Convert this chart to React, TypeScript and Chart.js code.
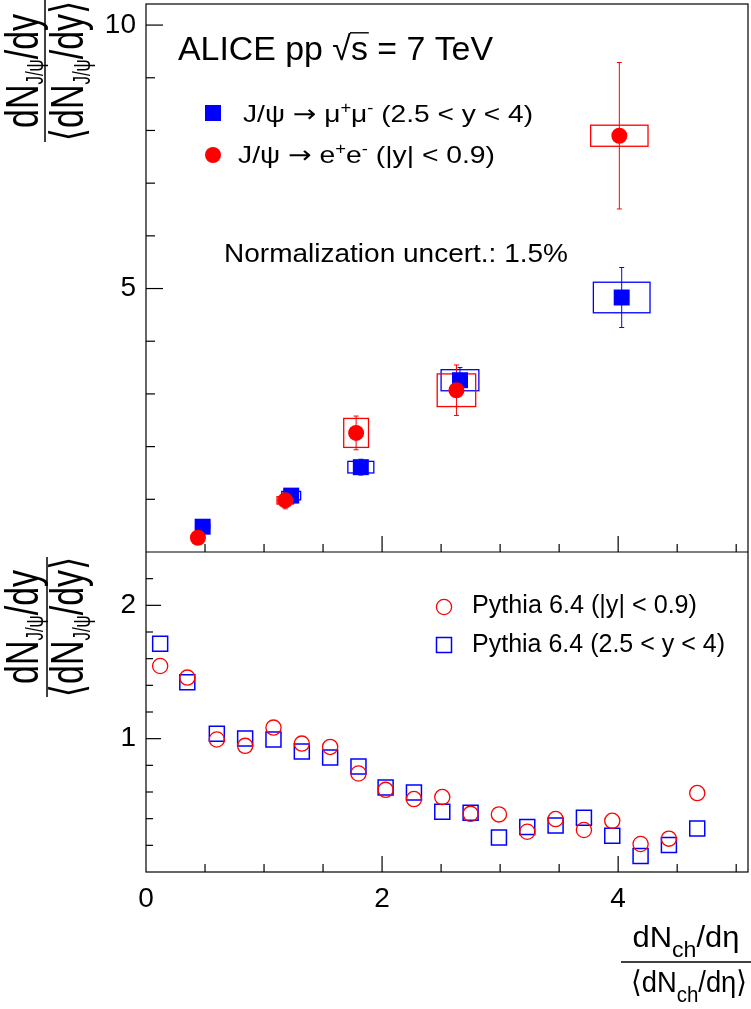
import React, { useEffect, useRef } from 'react';
import { Chart, registerables } from 'chart.js';

Chart.register(...registerables);

const FONT = '"Liberation Sans", Arial, Helvetica, sans-serif';
const SYM = '"DejaVu Sans", sans-serif';
const BLUE = '#0000ff';
const RED = '#ff0000';

// ---- Top panel: ALICE data ----
const muonX = [0.48, 1.23, 1.82, 2.66, 4.03];
const muonY = [0.48, 1.07, 1.61, 3.26, 4.83];
const muonStat = [0.04, 0.06, 0.15, 0.24, 0.57];
const muonSysX = [0.06, 0.08, 0.11, 0.16, 0.24];
const muonSysY = [0.04, 0.08, 0.11, 0.2, 0.29];

const eeX = [0.44, 1.18, 1.78, 2.63, 4.01];
const eeY = [0.27, 0.98, 2.26, 3.07, 7.9];
const eeStat = [0.05, 0.16, 0.32, 0.48, 1.39];
const eeSysX = [0.05, 0.07, 0.105, 0.163, 0.243];
const eeSysY = [0.04, 0.07, 0.275, 0.31, 0.2];

// ---- Bottom panel: Pythia 6.4 ----
const pythiaX = [0.12, 0.35, 0.6, 0.84, 1.08, 1.32, 1.56, 1.8, 2.03, 2.27, 2.51, 2.75, 2.99, 3.23, 3.47, 3.71, 3.95, 4.19, 4.43, 4.67];
const pythiaMidY = [1.545, 1.458, 0.994, 0.946, 1.083, 0.963, 0.938, 0.739, 0.616, 0.547, 0.562, 0.436, 0.432, 0.302, 0.397, 0.315, 0.384, 0.21, 0.25, 0.592];
const pythiaFwdY = [1.712, 1.423, 1.036, 1.001, 0.994, 0.903, 0.858, 0.791, 0.633, 0.597, 0.451, 0.444, 0.259, 0.337, 0.349, 0.406, 0.272, 0.12, 0.202, 0.326];

// ---- Axes ----
const xRange = [0, 5.1];
const yTopRange = [0, 10.4];
const yBotRange = [0, 2.4];
const xLabelTicks = [0, 2, 4];
const xAllTicks = [0.5, 1, 1.5, 2, 2.5, 3, 3.5, 4, 4.5, 5];
const yTopLabelTicks = [5, 10];
const yTopAllTicks = [1, 2, 3, 4, 5, 6, 7, 8, 9, 10];
const yBotLabelTicks = [1, 2];
const yBotAllTicks = [0.2, 0.4, 0.6, 0.8, 1, 1.2, 1.4, 1.6, 1.8, 2, 2.2];

type Seg = { t: string; k?: 'sub' | 'sup'; over?: boolean; fam?: string; size?: number };
type RichOpt = { f: number; subScale?: number; subDrop?: number; supRise?: number; target?: number; sx?: number; align?: 'left' | 'center' };

function segFont(s: Seg, o: RichOpt) {
  const base = s.size ?? o.f;
  const size = s.k ? o.f * (o.subScale ?? 0.7) : base;
  return `${size}px ${s.fam ?? FONT}`;
}
function richWidth(ctx: CanvasRenderingContext2D, segs: Seg[], o: RichOpt) {
  let w = 0;
  for (const s of segs) {
    ctx.font = segFont(s, o);
    w += ctx.measureText(s.t).width;
  }
  return w;
}
function drawRich(ctx: CanvasRenderingContext2D, segs: Seg[], x: number, y: number, o: RichOpt) {
  const nat = richWidth(ctx, segs, o);
  const sx = o.sx ?? (o.target ? o.target / nat : 1);
  const w = nat * sx;
  const x0 = o.align === 'center' ? x - w / 2 : x;
  ctx.save();
  ctx.translate(x0, y);
  ctx.scale(sx, 1);
  ctx.textAlign = 'left';
  ctx.textBaseline = 'alphabetic';
  ctx.fillStyle = '#000';
  let px = 0;
  for (const s of segs) {
    ctx.font = segFont(s, o);
    const dy = s.k === 'sub' ? (o.subDrop ?? o.f * 0.3) : s.k === 'sup' ? -(o.supRise ?? o.f * 0.38) : 0;
    ctx.fillText(s.t, px, dy);
    const mw = ctx.measureText(s.t).width;
    if (s.over) {
      ctx.strokeStyle = '#000';
      ctx.lineWidth = 1.4;
      ctx.beginPath();
      ctx.moveTo(px - 1, -o.f * 0.8);
      ctx.lineTo(px + mw + 1, -o.f * 0.8);
      ctx.stroke();
    }
    px += mw;
  }
  ctx.restore();
  return sx;
}

function line(ctx: CanvasRenderingContext2D, x1: number, y1: number, x2: number, y2: number) {
  ctx.beginPath();
  ctx.moveTo(x1, y1);
  ctx.lineTo(x2, y2);
  ctx.stroke();
}

const numJ: Seg[] = [{ t: 'dN' }, { t: 'J/ψ', k: 'sub' }, { t: '/dy' }];
const denJ: Seg[] = [{ t: '⟨', fam: SYM }, { t: 'dN' }, { t: 'J/ψ', k: 'sub' }, { t: '/dy' }, { t: '⟩', fam: SYM }];
const numX: Seg[] = [{ t: 'dN' }, { t: 'ch', k: 'sub' }, { t: '/dη' }];
const denX: Seg[] = [{ t: '⟨', fam: SYM }, { t: 'dN' }, { t: 'ch', k: 'sub' }, { t: '/dη' }, { t: '⟩', fam: SYM }];

function drawYTitle(ctx: CanvasRenderingContext2D, cy: number, lineX: number, half: number) {
  ctx.save();
  ctx.translate(0, cy);
  ctx.rotate(-Math.PI / 2);
  const sx = drawRich(ctx, numJ, 0, 38, { f: 46, subScale: 0.5, subDrop: 5, target: 114, align: 'center' });
  ctx.strokeStyle = '#000';
  ctx.lineWidth = 1.5;
  line(ctx, -half, lineX, half, lineX);
  drawRich(ctx, denJ, 0, 83, { f: 46, subScale: 0.5, subDrop: 7, sx, align: 'center' });
  ctx.restore();
}

const decor = {
  id: 'decor',
  beforeDatasetsDraw(chart: any) {
    const ctx: CanvasRenderingContext2D = chart.ctx;
    const x = chart.scales.x;
    const y = chart.scales.yTop;
    const series = (xs: number[], ys: number[], st: number[], sx: number[], sy: number[], color: string) => {
      ctx.save();
      ctx.strokeStyle = color;
      ctx.lineWidth = 1.3;
      xs.forEach((xv, i) => {
        const l = x.getPixelForValue(xv - sx[i]);
        const r = x.getPixelForValue(xv + sx[i]);
        const t = y.getPixelForValue(ys[i] + sy[i]);
        const b = y.getPixelForValue(ys[i] - sy[i]);
        ctx.strokeRect(l, t, r - l, b - t);
      });
      ctx.lineWidth = 1;
      xs.forEach((xv, i) => {
        const px = x.getPixelForValue(xv);
        const t = y.getPixelForValue(ys[i] + st[i]);
        const b = y.getPixelForValue(ys[i] - st[i]);
        line(ctx, px, t, px, b);
        line(ctx, px - 2.5, t, px + 2.5, t);
        line(ctx, px - 2.5, b, px + 2.5, b);
      });
      ctx.restore();
    };
    series(muonX, muonY, muonStat, muonSysX, muonSysY, BLUE);
    series(eeX, eeY, eeStat, eeSysX, eeSysY, RED);
  },
  afterDraw(chart: any) {
    const ctx: CanvasRenderingContext2D = chart.ctx;
    const ca = chart.chartArea;
    const x = chart.scales.x;
    const yT = chart.scales.yTop;
    const yB = chart.scales.yBot;
    ctx.save();
    ctx.strokeStyle = '#000';
    ctx.lineWidth = 1.2;
    // frame + separator
    ctx.strokeRect(ca.left, ca.top, ca.right - ca.left, ca.bottom - ca.top);
    line(ctx, ca.left, yT.bottom, ca.right, yT.bottom);
    // x ticks on both panels
    for (const v of xAllTicks) {
      const px = x.getPixelForValue(v);
      const len = xLabelTicks.includes(v) ? 16 : 8;
      line(ctx, px, yT.bottom, px, yT.bottom - len);
      line(ctx, px, yB.bottom, px, yB.bottom - len);
    }
    for (const v of yTopAllTicks) {
      const py = yT.getPixelForValue(v);
      const len = yTopLabelTicks.includes(v) ? 17 : 9;
      line(ctx, ca.left, py, ca.left + len, py);
    }
    for (const v of yBotAllTicks) {
      const py = yB.getPixelForValue(v);
      const len = yBotLabelTicks.includes(v) ? 15 : 7;
      line(ctx, ca.left, py, ca.left + len, py);
    }
    ctx.restore();

    // axis titles
    drawYTitle(ctx, 71, 45, 71);
    drawYTitle(ctx, 627, 47, 70);
    drawRich(ctx, numX, 686, 947, { f: 30, subScale: 0.75, subDrop: 10, target: 107, align: 'center' });
    ctx.save();
    ctx.strokeStyle = '#000';
    ctx.lineWidth = 1.5;
    line(ctx, 621, 962, 751, 962);
    ctx.restore();
    drawRich(ctx, denX, 689, 992, { f: 30, subScale: 0.75, subDrop: 10, target: 116, align: 'center' });

    // header text
    drawRich(ctx, [{ t: 'ALICE pp ' }, { t: '√' }, { t: 's', over: true }, { t: ' = 7 TeV' }], 178, 60, { f: 34, target: 315 });

    // top legend
    ctx.save();
    ctx.fillStyle = BLUE;
    ctx.fillRect(205, 105, 16, 16);
    ctx.fillStyle = RED;
    ctx.beginPath();
    ctx.arc(213, 155, 8, 0, Math.PI * 2);
    ctx.fill();
    ctx.restore();
    drawRich(ctx, [{ t: 'J/ψ ' }, { t: '→', fam: SYM }, { t: ' μ' }, { t: '+', k: 'sup' }, { t: 'μ' }, { t: '-', k: 'sup' }, { t: ' (2.5 < y < 4)' }], 243, 122, { f: 24, subScale: 0.65, supRise: 9, target: 290 });
    drawRich(ctx, [{ t: 'J/ψ ' }, { t: '→', fam: SYM }, { t: ' e' }, { t: '+', k: 'sup' }, { t: 'e' }, { t: '-', k: 'sup' }, { t: ' (|y| < 0.9)' }], 238, 163, { f: 24, subScale: 0.65, supRise: 9, target: 257 });
    drawRich(ctx, [{ t: 'Normalization uncert.: 1.5%' }], 224, 262, { f: 26, target: 344 });

    // bottom legend
    ctx.save();
    ctx.strokeStyle = RED;
    ctx.lineWidth = 1.3;
    ctx.beginPath();
    ctx.arc(444, 607, 7.6, 0, Math.PI * 2);
    ctx.stroke();
    ctx.strokeStyle = BLUE;
    ctx.lineWidth = 1.5;
    ctx.strokeRect(436.5, 637.5, 15, 15);
    ctx.restore();
    drawRich(ctx, [{ t: 'Pythia 6.4 (|y| < 0.9)' }], 472, 613, { f: 25, target: 225 });
    drawRich(ctx, [{ t: 'Pythia 6.4 (2.5 < y < 4)' }], 472, 652, { f: 25, target: 253 });
  },
};

const pts = (xs: number[], ys: number[]) => xs.map((v, i) => ({ x: v, y: ys[i] }));
const noPad = (s: any) => { s.paddingTop = 0; s.paddingBottom = 0; s.paddingLeft = 0; s.paddingRight = 0; };

export default function App() {
  const ref = useRef<HTMLCanvasElement | null>(null);
  useEffect(() => {
    const canvas = ref.current;
    if (!canvas) return;
    const tickFont = { family: FONT, size: 28 };
    const chart = new Chart(canvas, {
      type: 'scatter',
      data: {
        datasets: [
          { label: 'J/ψ → μ+μ- (2.5 < y < 4)', data: pts(muonX, muonY), xAxisID: 'x', yAxisID: 'yTop', pointStyle: 'rect', pointRadius: 11.3, backgroundColor: BLUE, borderColor: BLUE, borderWidth: 0, order: 1 },
          { label: 'J/ψ → e+e- (|y| < 0.9)', data: pts(eeX, eeY), xAxisID: 'x', yAxisID: 'yTop', pointStyle: 'circle', pointRadius: 8, backgroundColor: RED, borderColor: RED, borderWidth: 0, order: 0 },
          { label: 'Pythia 6.4 (|y| < 0.9)', data: pts(pythiaX, pythiaMidY), xAxisID: 'x', yAxisID: 'yBot', pointStyle: 'circle', pointRadius: 7.6, backgroundColor: 'rgba(0,0,0,0)', borderColor: RED, borderWidth: 1.3, order: 2 },
          { label: 'Pythia 6.4 (2.5 < y < 4)', data: pts(pythiaX, pythiaFwdY), xAxisID: 'x', yAxisID: 'yBot', pointStyle: 'rect', pointRadius: 10.6, backgroundColor: 'rgba(0,0,0,0)', borderColor: BLUE, borderWidth: 1.5, order: 3 },
        ],
      },
      options: {
        responsive: false,
        animation: false,
        devicePixelRatio: 1,
        events: [],
        layout: { autoPadding: false, padding: { top: 4, right: 3, bottom: 0, left: 0 } },
        plugins: { legend: { display: false }, tooltip: { enabled: false } },
        scales: {
          x: {
            type: 'linear', position: 'bottom', min: xRange[0], max: xRange[1],
            grid: { display: false, drawTicks: false }, border: { display: false },
            ticks: { font: tickFont, color: '#000', padding: 10, maxRotation: 0, autoSkip: false, callback: (v: any) => String(v) },
            afterBuildTicks: (s: any) => { s.ticks = xLabelTicks.map((v) => ({ value: v })); },
            afterFit: (s: any) => { s.height = 137; noPad(s); },
          },
          yBot: {
            type: 'linear', position: 'left', stack: 'panels', stackWeight: 320, min: yBotRange[0], max: yBotRange[1],
            grid: { display: false, drawTicks: false }, border: { display: false },
            ticks: { font: tickFont, color: '#000', padding: 10, autoSkip: false, callback: (v: any) => String(v) },
            afterBuildTicks: (s: any) => { s.ticks = yBotLabelTicks.map((v) => ({ value: v })); },
            afterFit: (s: any) => { s.width = 146; noPad(s); },
          },
          yTop: {
            type: 'linear', position: 'left', stack: 'panels', stackWeight: 548, min: yTopRange[0], max: yTopRange[1],
            grid: { display: false, drawTicks: false }, border: { display: false },
            ticks: { font: tickFont, color: '#000', padding: 10, autoSkip: false, callback: (v: any) => String(v) },
            afterBuildTicks: (s: any) => { s.ticks = yTopLabelTicks.map((v) => ({ value: v })); },
            afterFit: (s: any) => { s.width = 146; noPad(s); },
          },
        },
      } as any,
      plugins: [decor],
    });
    return () => chart.destroy();
  }, []);
  return (
    <div style={{ position: 'absolute', left: 0, top: 0, width: 751, height: 1009, background: '#fff' }}>
      <canvas ref={ref} width={751} height={1009} style={{ display: 'block', width: 751, height: 1009 }} />
    </div>
  );
}
